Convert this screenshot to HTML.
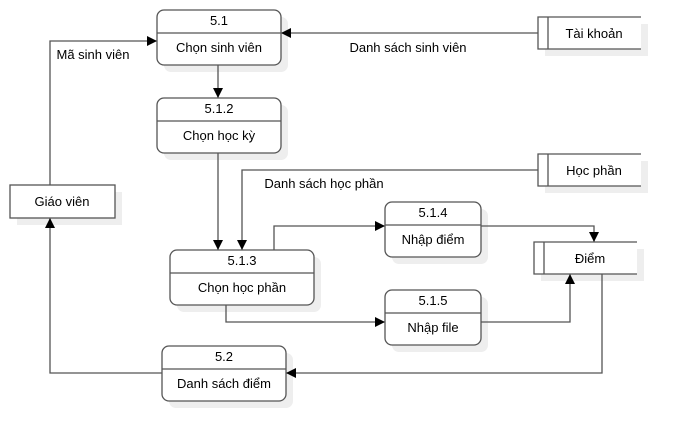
<!DOCTYPE html>
<html><head><meta charset="utf-8"><style>
html,body{margin:0;padding:0;background:#fff;}
svg{display:block;font-family:"Liberation Sans",sans-serif;}
</style></head><body>
<svg width="681" height="441" viewBox="0 0 681 441" xmlns="http://www.w3.org/2000/svg">
<defs>
<marker id="a" viewBox="0 0 10 10" refX="10" refY="5" markerWidth="10" markerHeight="10" orient="auto" markerUnits="userSpaceOnUse"><path d="M0,0 L10,5 L0,10 z" fill="#000"/></marker>
</defs>
<g fill="#eeeeee">
<rect x="164" y="17" width="124" height="55" rx="7"/>
<rect x="164" y="105" width="124" height="55" rx="7"/>
<rect x="177" y="257" width="144" height="55" rx="7"/>
<rect x="392" y="209" width="96" height="55" rx="7"/>
<rect x="392" y="297" width="96" height="55" rx="7"/>
<rect x="169" y="353" width="124" height="55" rx="7"/>
<rect x="17" y="192" width="105" height="33"/>
<rect x="545" y="24" width="103" height="32"/>
<rect x="545" y="161" width="103" height="32"/>
<rect x="541" y="249" width="103" height="32"/>
</g>
<g fill="none" stroke="#555" stroke-width="1.3">
<path d="M538,33 H281" marker-end="url(#a)"/>
<path d="M50,185 V41 H157" marker-end="url(#a)"/>
<path d="M218,65 V98" marker-end="url(#a)"/>
<path d="M218,153 V250" marker-end="url(#a)"/>
<path d="M538,170 H242 V250" marker-end="url(#a)"/>
<path d="M274,250 V226 H385" marker-end="url(#a)"/>
<path d="M481,226 H594 V242" marker-end="url(#a)"/>
<path d="M226,305 V322 H385" marker-end="url(#a)"/>
<path d="M481,322 H570 V274" marker-end="url(#a)"/>
<path d="M602,274 V373 H286" marker-end="url(#a)"/>
<path d="M162,373 H50 V218" marker-end="url(#a)"/>
</g>
<g fill="#fff" stroke="#555" stroke-width="1.3">
<rect x="157" y="10" width="124" height="55" rx="7"/>
<rect x="157" y="98" width="124" height="55" rx="7"/>
<rect x="170" y="250" width="144" height="55" rx="7"/>
<rect x="385" y="202" width="96" height="55" rx="7"/>
<rect x="385" y="290" width="96" height="55" rx="7"/>
<rect x="162" y="346" width="124" height="55" rx="7"/>
<rect x="10" y="185" width="105" height="33"/>
<path d="M641,17 H538 V49 H641 M548,17 V49"/>
<path d="M641,154 H538 V186 H641 M548,154 V186"/>
<path d="M637,242 H534 V274 H637 M544,242 V274"/>
<path d="M157,33 H281 M157,121 H281 M170,273 H314 M385,225 H481 M385,313 H481 M162,369 H286"/>
</g>
<g font-size="13" fill="#000" text-anchor="middle">
<text x="219" y="25">5.1</text>
<text x="219" y="52">Chọn sinh viên</text>
<text x="219" y="113">5.1.2</text>
<text x="219" y="140">Chọn học kỳ</text>
<text x="242" y="265">5.1.3</text>
<text x="242" y="292">Chọn học phần</text>
<text x="433" y="217">5.1.4</text>
<text x="433" y="244">Nhập điểm</text>
<text x="433" y="305">5.1.5</text>
<text x="433" y="332">Nhập file</text>
<text x="224" y="361">5.2</text>
<text x="224" y="388">Danh sách điểm</text>
<text x="62" y="206">Giáo viên</text>
<text x="594" y="38">Tài khoản</text>
<text x="594" y="175">Học phần</text>
<text x="590" y="263">Điểm</text>
<text x="408" y="52">Danh sách sinh viên</text>
<text x="93" y="59">Mã sinh viên</text>
<text x="324" y="188">Danh sách học phần</text>
</g>
</svg>
</body></html>
